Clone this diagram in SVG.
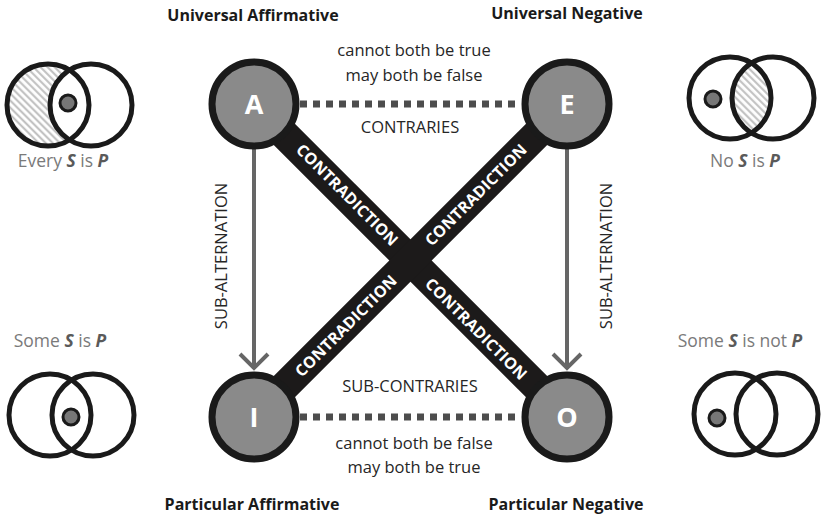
<svg xmlns="http://www.w3.org/2000/svg" width="824" height="519" viewBox="0 0 824 519">
<style>
.title{font-family:"Open Sans","Liberation Sans",sans-serif;font-weight:bold;font-size:16px;fill:#1a1a1a;text-anchor:middle}
.note{font-family:"Open Sans","Liberation Sans",sans-serif;font-size:16.5px;fill:#262626;text-anchor:middle}
.cap{font-family:"Open Sans","Liberation Sans",sans-serif;font-size:17.5px;fill:#7a7a7a;text-anchor:middle}
.cap .v{font-weight:bold;font-style:italic;fill:#5a5a5a}
.contra{font-family:"Open Sans","Liberation Sans",sans-serif;font-weight:bold;font-size:16px;fill:#fff;text-anchor:middle}
.node circle{fill:#8a8a8a;stroke:#1a1a1a;stroke-width:7}
.node text{font-family:"Open Sans","Liberation Sans",sans-serif;font-weight:bold;font-size:27px;fill:#fff;text-anchor:middle}
.bar{stroke:#1c1a1a;stroke-width:30;stroke-linecap:butt}
.dash{stroke:#4d4d4d;stroke-width:7;stroke-dasharray:7 6}
.sub{stroke:#666;stroke-width:4;fill:none}
.ring{fill:none;stroke:#1a1a1a;stroke-width:5}
.dot{fill:#777;stroke:#1a1a1a;stroke-width:3}
</style>
<defs>
<pattern id="hatch" patternUnits="userSpaceOnUse" width="5" height="5" patternTransform="rotate(-45)">
<rect width="5" height="5" fill="#fff"/>
<line x1="1.2" y1="0" x2="1.2" y2="5" stroke="#bdbdbd" stroke-width="2"/>
</pattern>
<clipPath id="trclip"><circle cx="773" cy="98" r="41"/></clipPath>
</defs>

<g id="connectors">
<line class="bar" x1="254" y1="104" x2="567" y2="417"/>
<line class="bar" x1="567" y1="104" x2="254" y2="417"/>
<line class="dash" x1="300" y1="104" x2="521" y2="104"/>
<line class="dash" x1="300" y1="417" x2="521" y2="417"/>
<line class="sub" x1="254" y1="148" x2="254" y2="369"/>
<polyline class="sub" points="240,354 254,368 268,354"/>
<line class="sub" x1="567" y1="148" x2="567" y2="369"/>
<polyline class="sub" points="553,354 567,368 581,354"/>
<text class="contra" transform="translate(347,195) rotate(45)" y="5.5" textLength="136" lengthAdjust="spacing">CONTRADICTION</text>
<text class="contra" transform="translate(476,329) rotate(45)" y="5.5" textLength="136" lengthAdjust="spacing">CONTRADICTION</text>
<text class="contra" transform="translate(476,195) rotate(-45)" y="5.5" textLength="136" lengthAdjust="spacing">CONTRADICTION</text>
<text class="contra" transform="translate(346,326) rotate(-45)" y="5.5" textLength="136" lengthAdjust="spacing">CONTRADICTION</text>
<text class="note" x="410" y="133">CONTRARIES</text>
<text class="note" x="410" y="392">SUB-CONTRARIES</text>
<text class="note" transform="translate(227,256) rotate(-90)">SUB-ALTERNATION</text>
<text class="note" transform="translate(612,256) rotate(-90)">SUB-ALTERNATION</text>
<text class="note" x="414" y="56">cannot both be true</text>
<text class="note" x="414" y="81">may both be false</text>
<text class="note" x="414" y="449">cannot both be false</text>
<text class="note" x="414" y="473">may both be true</text>
</g>

<g id="node-A" class="node"><circle cx="254" cy="104" r="42"/><text x="254" y="114">A</text></g>
<g id="node-E" class="node"><circle cx="567" cy="104" r="42"/><text x="567" y="114">E</text></g>
<g id="node-I" class="node"><circle cx="254" cy="417" r="42"/><text x="254" y="427">I</text></g>
<g id="node-O" class="node"><circle cx="567" cy="417" r="42"/><text x="567" y="427">O</text></g>

<text class="title" x="253" y="21">Universal Affirmative</text>
<text class="title" x="567" y="19">Universal Negative</text>
<text class="title" x="252" y="510">Particular Affirmative</text>
<text class="title" x="566" y="510">Particular Negative</text>

<g id="venn-A">
<circle cx="48" cy="105" r="41" fill="url(#hatch)"/>
<circle cx="91" cy="105" r="41" fill="#fff"/>
<circle class="ring" cx="48" cy="105" r="41"/>
<circle class="ring" cx="91" cy="105" r="41"/>
<circle class="dot" cx="68" cy="103" r="8"/>
<text class="cap" x="63" y="167">Every <tspan class="v">S</tspan> is <tspan class="v">P</tspan></text>
</g>
<g id="venn-E">
<circle cx="730" cy="98" r="41" fill="url(#hatch)" clip-path="url(#trclip)"/>
<circle class="ring" cx="730" cy="98" r="41"/>
<circle class="ring" cx="773" cy="98" r="41"/>
<circle class="dot" cx="713" cy="99" r="8"/>
<text class="cap" x="745" y="167">No <tspan class="v">S</tspan> is <tspan class="v">P</tspan></text>
</g>
<g id="venn-I">
<circle class="ring" cx="50" cy="415" r="41"/>
<circle class="ring" cx="93" cy="415" r="41"/>
<circle class="dot" cx="71" cy="417" r="8"/>
<text class="cap" x="60" y="347">Some <tspan class="v">S</tspan> is <tspan class="v">P</tspan></text>
</g>
<g id="venn-O">
<circle class="ring" cx="735" cy="414" r="41"/>
<circle class="ring" cx="777" cy="414" r="41"/>
<circle class="dot" cx="717" cy="418" r="8"/>
<text class="cap" x="740" y="347">Some <tspan class="v">S</tspan> is not <tspan class="v">P</tspan></text>
</g>
</svg>
